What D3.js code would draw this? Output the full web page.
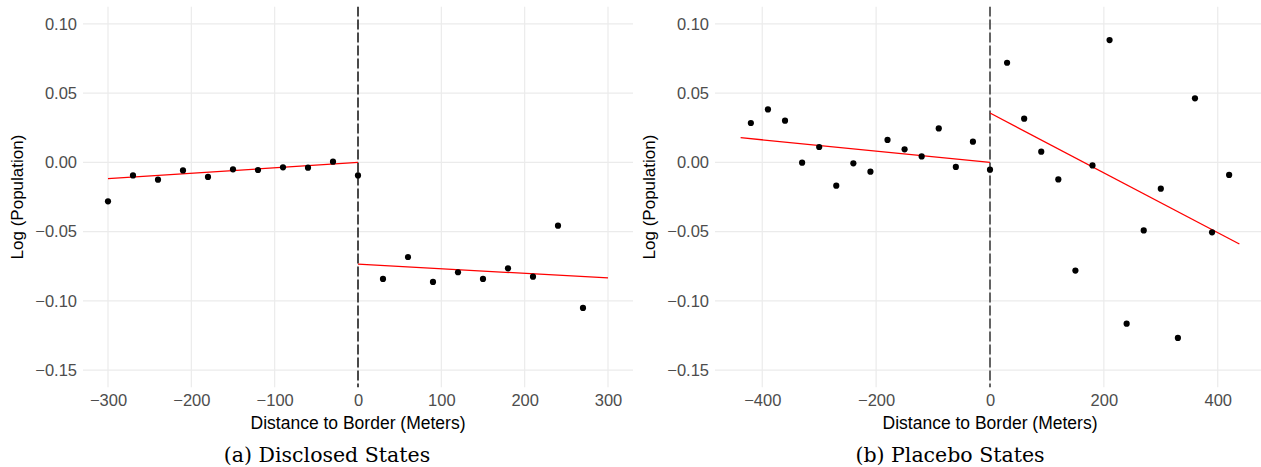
<!DOCTYPE html>
<html>
<head>
<meta charset="utf-8">
<script src="https://cdn.jsdelivr.net/npm/d3@7"></script>
<style>
  body { margin: 0; background: #fff; }
  svg { display: block; }
</style>
</head>
<body>
<svg id="vis" width="1261" height="467"></svg>
<script>
const svg = d3.select("#vis");

// panel (a) disclosed states, binned means
const distA = [-300, -270, -240, -210, -180, -150, -120, -90, -60, -30, 0,
               30, 60, 90, 120, 150, 180, 210, 240, 270];
const popA = [-0.0281, -0.0094, -0.0125, -0.0058, -0.0105, -0.0050, -0.0055, -0.0036, -0.0038, 0.0005, -0.0094,
              -0.0841, -0.0683, -0.0863, -0.0793, -0.0841, -0.0765, -0.0825, -0.0457, -0.1051];
// fitted lines each side of the border
const fitA_left = [[-300, -0.0118], [0, 0.0]];
const fitA_right = [[0, -0.0735], [300, -0.0834]];

// panel (b) placebo states
const distB = [-420, -390, -360, -330, -300, -270, -240, -210, -180, -150, -120, -90, -60, -30, 0,
               30, 60, 90, 120, 150, 180, 210, 240, 270, 300, 330, 360, 390, 420];
const popB = [0.0284, 0.0382, 0.0301, -0.0002, 0.0111, -0.0168, -0.0007, -0.0067, 0.0162, 0.0094, 0.0043, 0.0245, -0.0033, 0.0149, -0.0053,
              0.0719, 0.0315, 0.0077, -0.0123, -0.0781, -0.0022, 0.0883, -0.1164, -0.0491, -0.0190, -0.1267, 0.0462, -0.0505, -0.0091];
const fitB_left = [[-438, 0.0178], [0, 0.0]];
const fitB_right = [[0, 0.0356], [438, -0.0589]];

const xTicksA = [-300, -200, -100, 0, 100, 200, 300];
const xTicksB = [-400, -200, 0, 200, 400];
const yTicks = [0.10, 0.05, 0.00, -0.05, -0.10, -0.15];

const SANS = "'Liberation Sans', Arial, Helvetica, sans-serif";
const SERIF = "'DejaVu Serif', 'Liberation Serif', serif";
const DOTSIZE = 3.1;
const TOP = 6.5, BOTTOM = 387.5;

function drawPanel(p) {
    const g = svg.append("g");
    const xscale = d3.scaleLinear().domain(p.xdomain).range([p.left, p.left + 550]);
    const yscale = d3.scaleLinear().domain([-0.1625, 0.1125]).range([BOTTOM, TOP]);

    // clip so the right panel runs off the page edge like the original
    const clipId = "clip" + p.id;
    svg.append("clipPath").attr("id", clipId)
        .append("rect")
        .attr("x", p.left).attr("y", TOP)
        .attr("width", 550).attr("height", BOTTOM - TOP);

    const plot = g.append("g").attr("clip-path", "url(#" + clipId + ")");

    // grid
    plot.selectAll(".hgrid").data(yTicks).join("line")
        .attr("class", "hgrid")
        .attr("x1", p.left).attr("x2", p.left + 550)
        .attr("y1", d => yscale(d)).attr("y2", d => yscale(d))
        .attr("stroke", "#ebebeb").attr("stroke-width", 1.2);
    plot.selectAll(".vgrid").data(p.xticks).join("line")
        .attr("class", "vgrid")
        .attr("x1", d => xscale(d)).attr("x2", d => xscale(d))
        .attr("y1", TOP).attr("y2", BOTTOM)
        .attr("stroke", "#ebebeb").attr("stroke-width", 1.2);

    // border
    plot.append("line")
        .attr("x1", xscale(0)).attr("x2", xscale(0))
        .attr("y1", TOP).attr("y2", BOTTOM)
        .attr("stroke", p.dashColor).attr("stroke-width", 1.5)
        .attr("stroke-dasharray", "10,3");

    const line = d3.line().x(d => xscale(d[0])).y(d => yscale(d[1]));
    plot.selectAll(".fit").data(p.fits).join("path")
        .attr("class", "fit")
        .attr("d", line)
        .attr("fill", "none")
        .attr("stroke", "#ff0000")
        .attr("stroke-width", 1.3);

    const pts = p.xs.map((x, i) => ({x: x, y: p.ys[i]}));
    plot.selectAll(".points").data(pts).join("circle")
        .attr("class", "points")
        .attr("cx", d => xscale(d.x))
        .attr("cy", d => yscale(d.y))
        .attr("r", DOTSIZE)
        .attr("fill", "#000");

    // axes, no lines or ticks (theme_minimal)
    const yAxis = g.append("g")
        .attr("transform", "translate(" + p.left + ",0)")
        .call(d3.axisLeft(yscale).tickValues(yTicks).tickFormat(d3.format(".2f")).tickSize(0).tickPadding(6));
    const xAxis = g.append("g")
        .attr("transform", "translate(0," + BOTTOM + ")")
        .call(d3.axisBottom(xscale).tickValues(p.xticks).tickFormat(d3.format("d")).tickSize(0).tickPadding(7));
    [xAxis, yAxis].forEach(a => {
        a.select(".domain").remove();
        a.selectAll("text")
            .attr("fill", "#4d4d4d")
            .style("font-family", SANS)
            .style("font-size", "16.5px");
    });

    g.append("text")
        .attr("x", p.left + 275).attr("y", 429)
        .attr("text-anchor", "middle")
        .style("font-family", SANS).style("font-size", "17.5px")
        .attr("fill", "#000")
        .text("Distance to Border (Meters)");

    g.append("text")
        .attr("transform", "translate(" + (p.left - 60) + "," + ((TOP + BOTTOM) / 2) + ") rotate(-90)")
        .attr("text-anchor", "middle")
        .style("font-family", SANS).style("font-size", "17px")
        .attr("fill", "#000")
        .text("Log (Population)");

    g.append("text")
        .attr("x", p.captionX).attr("y", 462)
        .attr("text-anchor", "middle")
        .style("font-family", SERIF).style("font-size", "20.5px")
        .attr("fill", "#000")
        .text(p.caption);
}

function main() {
    drawPanel({id: "a", left: 83, xdomain: [-330, 330], xticks: xTicksA,
               xs: distA, ys: popA, fits: [fitA_left, fitA_right], dashColor: "#111",
               captionX: 327, caption: "(a) Disclosed States"});
    drawPanel({id: "b", left: 715, xdomain: [-483, 483], xticks: xTicksB,
               xs: distB, ys: popB, fits: [fitB_left, fitB_right], dashColor: "#333",
               captionX: 950, caption: "(b) Placebo States"});
}

main();
</script>
</body>
</html>
